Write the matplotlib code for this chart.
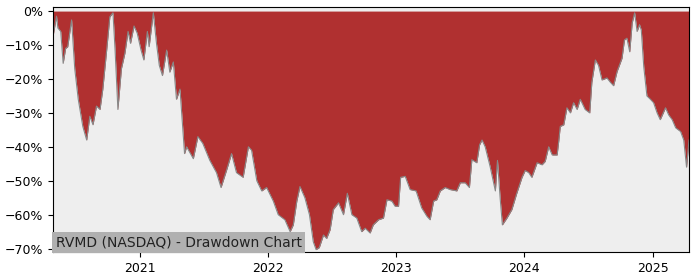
import matplotlib
matplotlib.use("Agg")
import matplotlib.pyplot as plt
import matplotlib.dates as mdates
import matplotlib.ticker as mticker
import pandas as pd

# drawdown (%)
dates = [
    "2020-04-28", "2020-05-08", "2020-05-12", "2020-05-20", "2020-05-27", "2020-06-03",
    "2020-06-09", "2020-06-20", "2020-06-29", "2020-07-09", "2020-07-22", "2020-08-02",
    "2020-08-11", "2020-08-20", "2020-08-30", "2020-09-09", "2020-09-17", "2020-09-28",
    "2020-10-07", "2020-10-16", "2020-10-22", "2020-10-30", "2020-11-09", "2020-11-19",
    "2020-11-28", "2020-12-05", "2020-12-15", "2020-12-24", "2021-01-04", "2021-01-12",
    "2021-01-22", "2021-01-27", "2021-02-08", "2021-02-17", "2021-02-25", "2021-03-06",
    "2021-03-18", "2021-03-27", "2021-04-06", "2021-04-15", "2021-04-25", "2021-05-04",
    "2021-05-08", "2021-05-14", "2021-06-02", "2021-06-15", "2021-06-29", "2021-07-19",
    "2021-08-07", "2021-08-20", "2021-09-05", "2021-09-19", "2021-10-03", "2021-10-22",
    "2021-11-06", "2021-11-15", "2021-11-30", "2021-12-14", "2021-12-28", "2022-01-16",
    "2022-01-30", "2022-02-18", "2022-03-05", "2022-03-14", "2022-03-24", "2022-04-02",
    "2022-04-16", "2022-04-29", "2022-05-10", "2022-05-18", "2022-05-27", "2022-06-08",
    "2022-06-17", "2022-06-27", "2022-07-06", "2022-07-21", "2022-08-04", "2022-08-15",
    "2022-08-28", "2022-09-11", "2022-09-25", "2022-10-05", "2022-10-19", "2022-10-28",
    "2022-11-12", "2022-11-26", "2022-12-06", "2022-12-20", "2022-12-29", "2023-01-08",
    "2023-01-14", "2023-01-27", "2023-02-10", "2023-02-27", "2023-03-15", "2023-03-30",
    "2023-04-08", "2023-04-18", "2023-04-27", "2023-05-07", "2023-05-21", "2023-06-04",
    "2023-06-23", "2023-07-03", "2023-07-17", "2023-07-29", "2023-08-05", "2023-08-19",
    "2023-08-27", "2023-09-03", "2023-09-12", "2023-09-26", "2023-10-11", "2023-10-17",
    "2023-10-25", "2023-10-31", "2023-11-13", "2023-11-27", "2023-12-11", "2023-12-26",
    "2024-01-04", "2024-01-14", "2024-01-23", "2024-02-07", "2024-02-21", "2024-03-01",
    "2024-03-11", "2024-03-21", "2024-04-04", "2024-04-09", "2024-04-13", "2024-04-23",
    "2024-05-02", "2024-05-12", "2024-05-21", "2024-05-31", "2024-06-09", "2024-06-23",
    "2024-07-06", "2024-07-12", "2024-07-22", "2024-07-31", "2024-08-10", "2024-08-24",
    "2024-09-03", "2024-09-12", "2024-09-22", "2024-10-06", "2024-10-13", "2024-10-20",
    "2024-10-28", "2024-11-04", "2024-11-11", "2024-11-18", "2024-11-25", "2024-11-30",
    "2024-12-07", "2024-12-16", "2024-12-26", "2025-01-04", "2025-01-14", "2025-01-23",
    "2025-02-07", "2025-02-16", "2025-02-26", "2025-03-08", "2025-03-22", "2025-03-31",
    "2025-04-08", "2025-04-15",
]
drawdown = [
    -7.5, -1.5, -5.0, -6.0, -15.4, -11.0,
    -10.5, -2.6, -17.0, -26.0, -34.0, -38.0,
    -31.0, -33.5, -28.0, -29.0, -23.0, -11.5,
    -1.7, -0.5, -11.5, -29.0, -17.0, -12.4,
    -6.0, -9.5, -4.4, -6.5, -11.5, -14.4,
    -6.0, -10.5, -0.5, -9.5, -16.0, -19.0,
    -11.5, -18.0, -15.0, -26.0, -23.0, -36.0,
    -42.0, -40.0, -43.5, -37.0, -39.0, -44.0,
    -47.6, -52.0, -46.8, -42.0, -47.6, -49.0,
    -40.0, -41.0, -50.0, -53.0, -52.0, -56.0,
    -60.0, -61.5, -65.0, -63.0, -56.0, -51.7,
    -55.0, -60.0, -68.0, -70.3, -69.7, -66.0,
    -67.0, -64.4, -58.5, -56.5, -60.0, -53.7,
    -60.0, -61.0, -65.0, -64.0, -65.4, -63.0,
    -61.5, -61.0, -55.6, -56.0, -57.5, -57.5,
    -49.0, -48.7, -52.6, -53.0, -58.0, -60.5,
    -61.5, -56.0, -55.6, -53.0, -52.0, -52.6,
    -53.0, -50.6, -50.6, -52.0, -43.8, -44.7,
    -39.4, -38.0, -40.0, -45.8, -53.0, -44.0,
    -55.6, -63.0, -61.0, -58.5, -53.7, -49.0,
    -47.0, -47.6, -49.0, -44.7, -45.3, -44.3,
    -40.0, -42.4, -42.4, -38.0, -34.0, -33.5,
    -28.5, -30.0, -27.0, -29.0, -26.0, -29.0,
    -30.0, -21.0, -14.4, -16.0, -20.3, -19.7,
    -21.0, -22.0, -17.8, -13.9, -8.5, -8.0,
    -12.0, -3.5, -0.5, -6.0, -4.0, -5.6,
    -16.4, -25.0, -26.0, -27.0, -30.0, -32.0,
    -28.5, -30.6, -32.0, -34.4, -35.5, -38.0,
    -46.0, -38.0,
]

x = pd.to_datetime(dates)

fig = plt.figure(figsize=(7, 2.8), dpi=100)
ax = fig.add_axes([0.0757, 0.1, 0.9086, 0.875])
ax.set_facecolor("#eeeeee")

ax.fill_between(x, drawdown, 0, color="#b03030", linewidth=0)
ax.plot(x, drawdown, color="#888888", linewidth=0.8)

ax.set_xlim(x[0], x[-1])
ax.set_ylim(-71.0, 1.2)
ax.yaxis.set_major_locator(mticker.MultipleLocator(10))
ax.yaxis.set_major_formatter(mticker.FuncFormatter(lambda v, p: f"{v:.0f}%".replace("-", "\u2212")))
ax.xaxis.set_major_locator(mdates.YearLocator())
ax.xaxis.set_major_formatter(mdates.DateFormatter("%Y"))
ax.tick_params(labelsize=9)

ax.text(0.004, 0.012, "RVMD (NASDAQ) - Drawdown Chart", transform=ax.transAxes,
        fontsize=10, color="#222222", va="bottom", ha="left",
        bbox=dict(facecolor="#b0b0b0", edgecolor="none", pad=2.5))

fig.savefig("out.png", dpi=100)
